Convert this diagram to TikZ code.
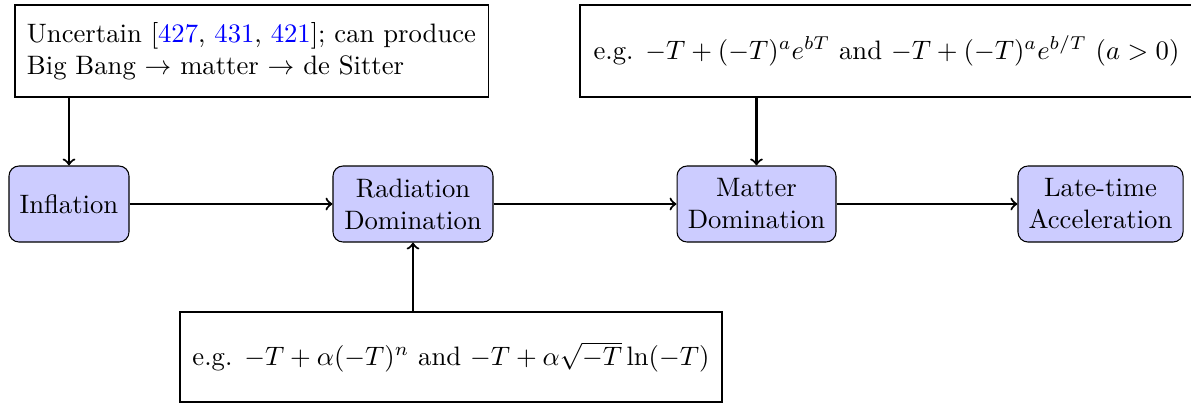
\documentclass[tikz,border=0pt]{standalone}
\usepackage{xcolor}
\begin{document}
\begin{tikzpicture}[x=0.375pt,y=-0.375pt,
  stage/.style={draw, rounded corners=3.75pt, fill=blue!20, align=center, minimum height=28.5pt, inner sep=2pt},
  note/.style={draw, align=left, minimum height=34.5pt},
  flow/.style={->, thick}]
\useasboundingbox (0,0) rectangle (1191,405);
\node[note, minimum width=177.4pt] (tl) at (251.5,51) {Uncertain [\textcolor{blue}{427}, \textcolor{blue}{431}, \textcolor{blue}{421}]; can produce\\Big Bang $\to$ matter $\to$ de Sitter};
\node[note, minimum width=229.9pt] (tr) at (886.5,51) {e.g. $-T+(-T)^a e^{bT}$ and $-T+(-T)^a e^{b/T}$ $(a>0)$};
\node[note, minimum width=203.25pt, minimum height=33.75pt] (bot) at (451,357) {e.g. $-T+\alpha(-T)^n$ and $-T+\alpha\sqrt{-T}\ln(-T)$};
\node[stage, minimum width=45pt] (infl) at (69,204) {Inflation};
\node[stage, minimum width=60pt] (rad) at (413,204) {Radiation\\Domination};
\node[stage, minimum width=59.6pt] (mat) at (756.5,204) {Matter\\Domination};
\node[stage, minimum width=61.9pt] (late) at (1100.5,204) {Late-time\\Acceleration};
\draw[flow] (infl) -- (rad);
\draw[flow] (rad) -- (mat);
\draw[flow] (mat) -- (late);
\draw[flow] (tl.south -| infl.north) -- (infl.north);
\draw[flow] (tr.south -| mat.north) -- (mat.north);
\draw[flow] (bot.north -| rad.south) -- (rad.south);
\end{tikzpicture}
\end{document}
